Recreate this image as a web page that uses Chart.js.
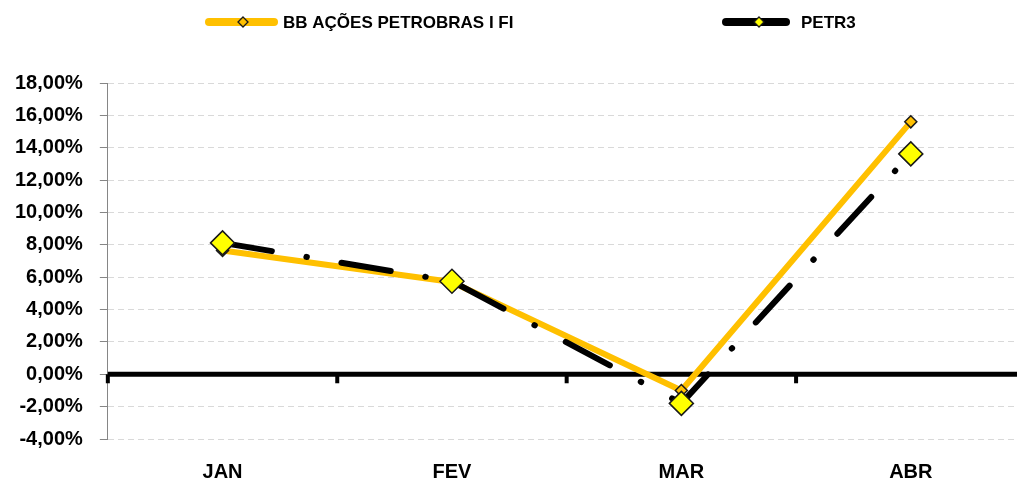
<!DOCTYPE html>
<html lang="pt">
<head>
    <meta charset="UTF-8">
    <title>BB Ações Petrobras I FI x PETR3</title>
    <script src="https://cdn.jsdelivr.net/npm/chart.js"></script>
    <style>
        html, body {
            margin: 0;
            padding: 0;
            background: #ffffff;
            overflow: hidden;
        }
        canvas {
            display: block;
        }
    </style>
</head>
<body>
    <canvas id="grafico" width="1039" height="483"></canvas>

    <script>
        // Dados (rentabilidade mensal, %)
        const meses = ["JAN", "FEV", "MAR", "ABR"];
        const fundoBB = [7.65, 5.7, -1.0, 15.6];
        const petr3 = [8.12, 5.75, -1.8, 13.62];
        const nomes = ["BB AÇÕES PETROBRAS I FI", "PETR3"];

        const FONTE = "'Liberation Sans', Arial, sans-serif";

        // linha do zero + marcas de categoria (estilo Excel)
        const linhaZero = {
            id: "linhaZero",
            beforeDatasetsDraw(chart) {
                const { ctx, chartArea, scales } = chart;
                const y0 = scales.y.getPixelForValue(0);
                const passo = scales.x.getPixelForValue(1) - scales.x.getPixelForValue(0);
                ctx.save();
                ctx.strokeStyle = "#000";
                ctx.lineWidth = 5;
                ctx.beginPath();
                ctx.moveTo(chartArea.left, y0);
                ctx.lineTo(chartArea.right, y0);
                ctx.stroke();
                ctx.lineWidth = 4;
                for (let i = 0; i <= meses.length; i++) {
                    const x = scales.x.getPixelForValue(i) - passo / 2;
                    ctx.beginPath();
                    ctx.moveTo(x, y0);
                    ctx.lineTo(x, y0 + 9);
                    ctx.stroke();
                }
                ctx.restore();
            }
        };

        // legenda com amostra de linha + marcador
        const legendaLinha = [[205, 278], [722, 790]];
        const legendaMarca = [243, 759];
        const legendaTexto = [283, 801];
        const legenda = {
            id: "legenda",
            afterDraw(chart) {
                const ctx = chart.ctx;
                const y = 22;
                ctx.save();
                chart.data.datasets.forEach((ds, i) => {
                    ctx.strokeStyle = ds.borderColor;
                    ctx.lineWidth = 8;
                    ctx.lineCap = "round";
                    ctx.beginPath();
                    ctx.moveTo(legendaLinha[i][0] + 4, y);
                    ctx.lineTo(legendaLinha[i][1] - 4, y);
                    ctx.stroke();
                    // marcador losango
                    const cx = legendaMarca[i], r = 5;
                    ctx.fillStyle = ds.pointBackgroundColor;
                    ctx.strokeStyle = "#1a1a1a";
                    ctx.lineWidth = 1.3;
                    ctx.beginPath();
                    ctx.moveTo(cx, y - r);
                    ctx.lineTo(cx + r, y);
                    ctx.lineTo(cx, y + r);
                    ctx.lineTo(cx - r, y);
                    ctx.closePath();
                    ctx.fill();
                    ctx.stroke();
                    ctx.fillStyle = "#000";
                    ctx.font = "bold 17px " + FONTE;
                    ctx.textBaseline = "middle";
                    ctx.fillText(ds.label, legendaTexto[i], y + 1);
                });
                ctx.restore();
            }
        };

        const ctx = document.getElementById("grafico").getContext("2d");
        const grafico = new Chart(ctx, {
            type: "line",
            data: {
                labels: meses,
                datasets: [
                    {
                        label: nomes[0],
                        data: fundoBB,
                        borderColor: "#FFC000",
                        borderWidth: 6,
                        borderJoinStyle: "round",
                        pointStyle: "rectRot",
                        pointRadius: 6,
                        pointBackgroundColor: "#FFC000",
                        pointBorderColor: "#1a1a1a",
                        pointBorderWidth: 1.5,
                        tension: 0,
                        order: 2
                    },
                    {
                        label: nomes[1],
                        data: petr3,
                        borderColor: "#000000",
                        borderWidth: 6,
                        borderCapStyle: "round",
                        borderJoinStyle: "round",
                        borderDash: [50, 35, 0.5, 35],
                        pointStyle: "rectRot",
                        pointRadius: 12,
                        pointBackgroundColor: "#FFFF00",
                        pointBorderColor: "#1a1a1a",
                        pointBorderWidth: 1.5,
                        tension: 0,
                        order: 1
                    }
                ]
            },
            options: {
                responsive: false,
                animation: false,
                layout: { padding: { top: 83, left: -2, right: 5, bottom: -22 } },
                plugins: {
                    legend: { display: false },
                    tooltip: { enabled: false }
                },
                scales: {
                    x: {
                        offset: true,
                        grid: { display: false, drawTicks: false, offset: true },
                        border: { display: false },
                        ticks: {
                            color: "#000",
                            padding: 23,
                            font: { family: FONTE, size: 20, weight: "bold", lineHeight: 1 }
                        }
                    },
                    y: {
                        min: -4,
                        max: 18,
                        grid: {
                            color: "#D9D9D9",
                            lineWidth: 1,
                            tickColor: "#868686",
                            tickLength: 8,
                            tickBorderDash: []
                        },
                        border: { display: true, color: "#868686", width: 1, dash: [6, 4] },
                        ticks: {
                            stepSize: 2,
                            color: "#000",
                            padding: 17,
                            font: { family: FONTE, size: 20, weight: "bold" },
                            callback: v => v.toFixed(2).replace(".", ",") + "%"
                        }
                    }
                }
            },
            plugins: [linhaZero, legenda]
        });
    </script>
</body>
</html>
